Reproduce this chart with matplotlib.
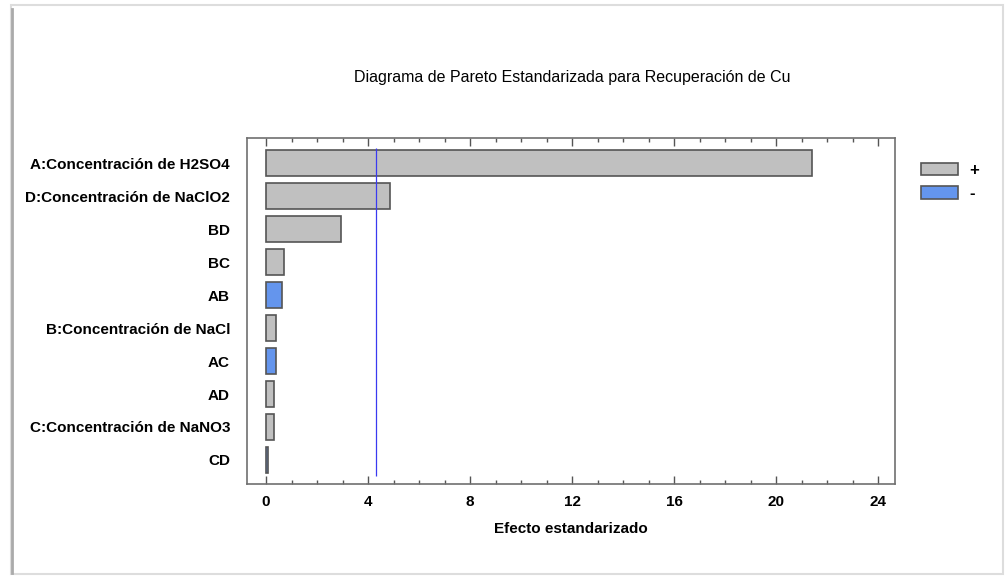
import matplotlib.pyplot as plt
from matplotlib.patches import Patch, Rectangle
from matplotlib.ticker import MultipleLocator
from matplotlib import font_manager

# effects, top to bottom as shown
factors = ["A:Concentración de H2SO4", "D:Concentración de NaClO2", "BD", "BC", "AB",
           "B:Concentración de NaCl", "AC", "AD", "C:Concentración de NaNO3", "CD"]
effects = [21.4, 4.86, 2.94, 0.69, 0.63, 0.38, 0.38, 0.29, 0.30, 0.06]
signs = ["+", "+", "+", "+", "-", "+", "-", "+", "+", "-"]
t_crit = 4.30

names = {f.name for f in font_manager.fontManager.ttflist}
family = "Liberation Sans Narrow" if "Liberation Sans Narrow" in names else "Liberation Sans"
plt.rcParams["font.family"] = [family, "DejaVu Sans"]

gray = "#c0c0c0"
blue = "#6495ed"
edge = "#555555"

fig = plt.figure(figsize=(10.07, 5.79), dpi=100)
ax = fig.add_axes([0.245, 0.164, 0.644, 0.598])

ypos = list(range(len(factors)))
colors = [gray if s == "+" else blue for s in signs]
ax.barh(ypos, effects, height=0.8, color=colors, edgecolor=edge, linewidth=1.2)
ax.vlines(t_crit, -0.45, 9.5, color="#3a3af0", linewidth=0.9)

ax.set_xlim(-0.76, 24.66)
ax.set_ylim(9.73, -0.77)
ax.set_yticks(ypos)
ax.set_yticklabels(factors, fontsize=11, fontweight="bold")
ax.set_xticks(range(0, 25, 4))
ax.xaxis.set_minor_locator(MultipleLocator(1))
ax.tick_params(axis="x", which="major", direction="in", length=6, width=1,
               top=True, labelsize=11, color="#555555", pad=8)
ax.tick_params(axis="x", which="minor", direction="in", length=3, width=1,
               top=True, color="#555555")
ax.tick_params(axis="y", length=0, pad=12)
for lab in ax.get_xticklabels():
    lab.set_fontweight("bold")
for s in ax.spines.values():
    s.set_color("#707070")
    s.set_linewidth(1.2)

ax.set_xlabel("Efecto estandarizado", fontsize=11, fontweight="bold", labelpad=9)
fig.text(0.568, 0.867, "Diagrama de Pareto Estandarizada para Recuperación de Cu",
         ha="center", va="center", fontsize=11.5)

handles = [Patch(facecolor=gray, edgecolor=edge, linewidth=1.2),
           Patch(facecolor=blue, edgecolor=edge, linewidth=1.2)]
fig.legend(handles, ["+", "-"], loc="upper left", bbox_to_anchor=(0.900, 0.745),
           frameon=False, handlelength=2.2, handleheight=0.8,
           labelspacing=0.5, handletextpad=0.7, prop={"weight": "bold", "size": 12})

# picture frame
fig.patches.append(Rectangle((0.011, 0.008), 0.985, 0.983, transform=fig.transFigure,
                             fill=False, edgecolor="#dddddd", linewidth=1.5))
fig.add_artist(plt.Line2D([0.012, 0.012], [0.01, 0.985], transform=fig.transFigure,
                          color="#aaaaaa", linewidth=2))

fig.savefig("out.png", dpi=100)
